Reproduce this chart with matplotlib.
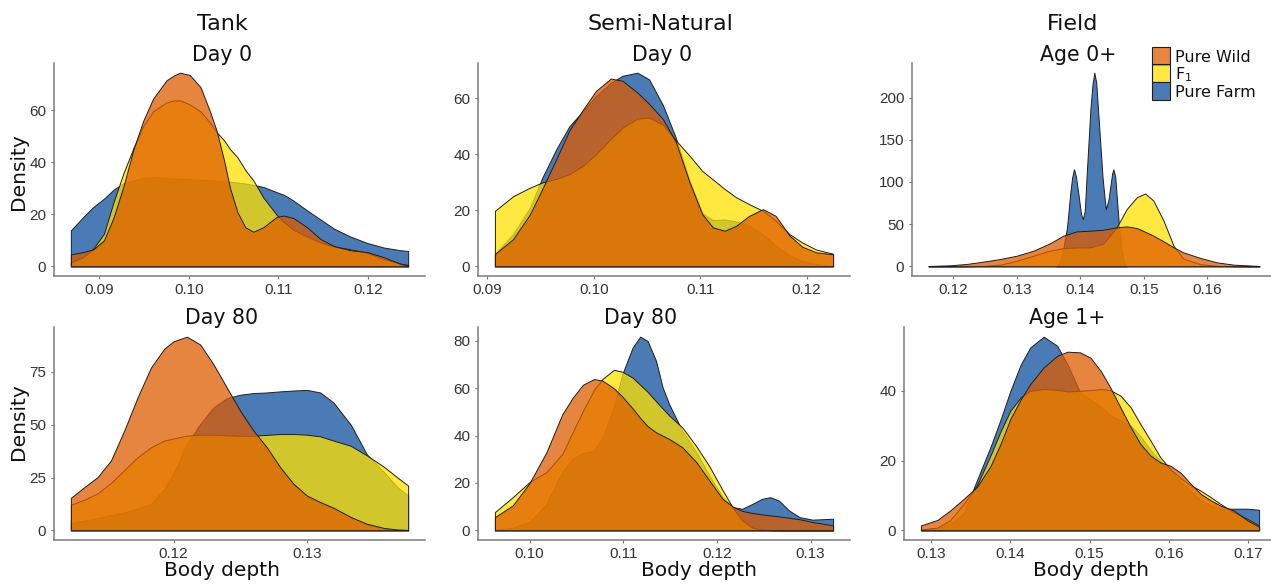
import matplotlib
matplotlib.use("Agg")
import matplotlib.pyplot as plt
from matplotlib.patches import Rectangle

# values (x = body depth, y = density)

# Tank, Day 0
tank_d0_x = [0.0868, 0.0882, 0.0893, 0.0905, 0.0916, 0.0927, 0.0938, 0.0949, 0.0960, 0.0975, 0.0983,
             0.0990, 0.1001, 0.1013, 0.1024, 0.1031, 0.1039, 0.1046, 0.1054, 0.1063, 0.1072, 0.1083,
             0.1098, 0.1106, 0.1117, 0.1132, 0.1147, 0.1162, 0.1180, 0.1199, 0.1218, 0.1236, 0.1245]
tank_d0_wild = [4.6, 5.5, 6.5, 10, 19, 31, 45, 56, 64.5, 71.5, 73.3, 74.4, 73.5, 68.8, 59, 52, 41, 30,
                21, 15, 13.3, 15, 19, 19.5, 18.5, 15, 10.5, 7.8, 6.2, 5.5, 3.5, 1, 0.3]
tank_d0_f1 = [1.5, 3.6, 6.8, 12.5, 25, 36, 45.5, 54, 59.6, 63, 63.7, 63.8, 62.2, 59.5, 55, 51.5, 48.5, 45,
              42, 37, 33, 26.5, 19.8, 17, 14, 11.5, 9.2, 7.6, 6.6, 5.2, 2.8, 1.1, 0.5]
tank_d0_farm = [13.8, 19, 22.8, 26, 29.5, 32, 33, 34, 34.2, 34, 33.8, 33.6, 33.5, 33.2, 33, 32.9, 32.7,
                32.5, 32.2, 31.8, 31.3, 30.5, 28.5, 27.5, 25.2, 21.5, 18, 14.5, 11.5, 9, 7.2, 6.2, 5.9]

# Semi-Natural, Day 0
semi_d0_x = [0.0907, 0.0924, 0.0940, 0.0952, 0.0965, 0.0977, 0.0990, 0.1002, 0.1016, 0.1027, 0.1041,
             0.1052, 0.1065, 0.1077, 0.1090, 0.1102, 0.1112, 0.1123, 0.1134, 0.1146, 0.1159, 0.1171,
             0.1184, 0.1196, 0.1209, 0.1225]
semi_d0_wild = [4.4, 9.7, 18.6, 28, 38.5, 48.5, 56, 62.6, 67, 66.2, 62, 58, 52.5, 44.5, 30, 18.6, 13.9,
                12.7, 14.5, 18, 20.4, 18, 11, 7, 5, 4.3]
semi_d0_f1 = [19.8, 25, 28.1, 30, 31.2, 32.9, 35.9, 40, 45.5, 49.5, 52.7, 53.1, 50.5, 45, 39.5, 34, 31,
              27.6, 24.6, 22.2, 19.8, 16.3, 11.5, 8.5, 6, 4.5]
semi_d0_farm = [4.4, 11.5, 21, 32, 42, 50, 55.5, 60.8, 65.5, 68, 69.1, 66.7, 57.5, 46, 30.5, 19, 16.5,
                16.7, 16, 14.5, 11.5, 7.5, 4, 2, 0.8, 0.2]

# Field, Age 0+
field_a0_x = [0.1161, 0.1195, 0.1221, 0.1247, 0.1274, 0.1300, 0.1326, 0.1352, 0.1373, 0.1394, 0.1415,
              0.1436, 0.1457, 0.1473, 0.1489, 0.1502, 0.1515, 0.1531, 0.1547, 0.1562, 0.1589, 0.1615,
              0.1641, 0.1682]
field_a0_wild = [0.4, 1.2, 2.8, 5.5, 8.7, 12.6, 18.5, 27.2, 36.3, 41.4, 42.2, 43.4, 46.2, 47.3, 45.4, 41,
                 36.3, 29.6, 22.5, 16.6, 9.9, 4.7, 2, 0.4]
field_a0_f1 = [0, 0, 0.1, 0.5, 2, 6.7, 12.6, 18.5, 21.7, 22.3, 22.5, 27, 46, 68, 82, 86.4, 78, 54, 24, 9,
               2.5, 0.6, 0.1, 0]
field_a0_farm_x = [0.1363, 0.1368, 0.1373, 0.1379, 0.1384, 0.1387, 0.1390, 0.1393, 0.1397, 0.1401,
                   0.1404, 0.1407, 0.1410, 0.1416, 0.1419, 0.1422, 0.1425, 0.1428, 0.1435, 0.1440,
                   0.1444, 0.1447, 0.1450, 0.1452, 0.1455, 0.1457, 0.1461, 0.1465, 0.1469, 0.1473]
field_a0_farm = [0, 4.7, 20.5, 46, 85.6, 105, 115, 107, 85.6, 62, 56, 66, 109, 188, 215, 229.6, 218,
                 184, 105, 67.8, 78, 93.5, 110, 115, 106, 85.6, 46, 20.5, 4.7, 0]

# Tank, Day 80
tank_d80_x = [0.1123, 0.1133, 0.1143, 0.1153, 0.1163, 0.1173, 0.1183, 0.1193, 0.1200, 0.1210, 0.1220,
              0.1230, 0.1240, 0.1250, 0.1260, 0.1270, 0.1280, 0.1290, 0.1300, 0.1310, 0.1320, 0.1333,
              0.1345, 0.1358, 0.1368, 0.1376]
tank_d80_wild = [15.4, 20.4, 25.2, 33, 47.2, 62.9, 77, 86, 89.5, 91.7, 88, 78.6, 67.6, 56.6, 47.2, 39.3,
                 29.9, 22, 16.5, 13.4, 10.7, 6.3, 3.1, 1.1, 0.4, 0.2]
tank_d80_f1 = [12.1, 14.5, 17.5, 22.4, 28.5, 34.6, 39.3, 42.5, 43.5, 44.8, 45.3, 45.3, 45, 44.8, 44.8,
               45.2, 45.6, 45.6, 45.3, 44.5, 42.5, 40, 35.5, 30, 25, 21.2]
tank_d80_farm = [3.5, 4.6, 5.8, 7.2, 8.5, 10.2, 12.5, 19.5, 27, 40.9, 50.3, 58.2, 62.6, 64.2, 65, 65.3,
                 65.8, 66.2, 66.5, 65.3, 60.5, 50, 36, 27.5, 20.4, 16.5]

# Semi-Natural, Day 80
semi_d80_x = [0.0963, 0.0982, 0.1000, 0.1018, 0.1035, 0.1046, 0.1057, 0.1069, 0.1078, 0.1090, 0.1099,
              0.1110, 0.1118, 0.1126, 0.1135, 0.1142, 0.1149, 0.1163, 0.1178, 0.1192, 0.1206, 0.1217,
              0.1227, 0.1238, 0.1248, 0.1257, 0.1266, 0.1277, 0.1288, 0.1302, 0.1324]
semi_d80_wild = [5.6, 10.5, 20, 33, 49.1, 56, 61.5, 63.9, 63.2, 60, 56.5, 51.5, 47.5, 44, 41.4, 40, 38.6,
                 35.1, 28.8, 21, 13.3, 10, 8.2, 7.3, 6.7, 6.3, 5.9, 5.3, 4.7, 3.5, 2.1]
semi_d80_f1 = [7.7, 14, 20.4, 24.6, 32.3, 41.5, 50.5, 59.5, 64, 67.8, 67, 64.5, 61.5, 58.5, 54.5, 51.5,
               48.5, 43.5, 35.5, 27, 17, 9.5, 4.2, 1.1, 0.3, 0.1, 0, 0, 0, 0, 0]
semi_d80_farm = [0.3, 1.1, 3.5, 11.2, 24.6, 30.2, 32.7, 33.6, 39.3, 52, 66, 77.2, 81.8, 80, 71.6, 60.4,
                 53.3, 42, 33, 23, 14, 9.8, 9.1, 11.2, 13.3, 14, 12.6, 8.4, 5.6, 4.5, 4.9]

# Field, Age 1+
field_a1_x = [0.1287, 0.1308, 0.1324, 0.1341, 0.1358, 0.1375, 0.1388, 0.1400, 0.1413, 0.1425, 0.1442,
              0.1459, 0.1472, 0.1488, 0.1501, 0.1514, 0.1526, 0.1539, 0.1552, 0.1564, 0.1577, 0.1589,
              0.1602, 0.1615, 0.1627, 0.1640, 0.1653, 0.1665, 0.1682, 0.1699, 0.1714]
field_a1_wild = [1.4, 3, 5.7, 9, 12.5, 18.5, 25, 32, 37.5, 41.9, 46.7, 50, 51.2, 51, 49.5, 45.7, 41, 35.2,
                 29.5, 24.8, 21.4, 19.5, 18.5, 16.5, 13.5, 10.5, 8.6, 7.1, 5.7, 2.9, 1]
field_a1_f1 = [0.2, 0.8, 2.9, 7.6, 13, 21.5, 28.6, 34.3, 38.1, 40, 40.5, 40.3, 39.8, 40, 40.2, 40.5, 40.2,
               38.6, 35.2, 30.5, 25.7, 21, 17.5, 15, 13, 11.4, 9.5, 7.6, 5.2, 3.3, 1.4]
field_a1_farm = [0.2, 0.6, 1.9, 4.8, 14.5, 24, 32, 40, 47.5, 52.4, 55.5, 52.9, 47.6, 39.5, 37.5, 35.5, 33,
                 31.5, 30, 27, 23, 20, 17, 14, 11.4, 8.8, 7, 6.2, 6.2, 6.2, 5.9]

groups = ["Pure Wild", "F$_1$", "Pure Farm"]
colors = {"Pure Wild": "#DE5C00", "F$_1$": "#FFE100", "Pure Farm": "#0E4F9C"}
ALPHA = 0.75

W, H = 1271, 585

plt.rcParams["font.family"] = ["DejaVu Sans"]
plt.rcParams["mathtext.default"] = "regular"

fig = plt.figure(figsize=(W / 100, H / 100), dpi=100)


def add_ax(left, top, w, h):
    return fig.add_axes([left / W, 1 - (top + h) / H, w / W, h / H])


def fill(ax, x, y, name):
    r, g, b, _ = matplotlib.colors.to_rgba(colors[name])
    ax.fill_between(x, 0, y, facecolor=(r, g, b, ALPHA), edgecolor="#1e1e1e", linewidth=0.7)


def draw_panel(ax, wild, f1, farm, xticks, yticks):
    # farm first, then F1, wild on top
    for (x, y), name in zip([farm, f1, wild], ["Pure Farm", "F$_1$", "Pure Wild"]):
        fill(ax, x, y, name)
    xs = list(wild[0]) + list(f1[0]) + list(farm[0])
    ys = list(wild[1]) + list(f1[1]) + list(farm[1])
    x0, x1 = min(xs), max(xs)
    dx = (x1 - x0) * 0.05
    ax.set_xlim(x0 - dx, x1 + dx)
    ymax = max(ys)
    ax.set_ylim(-0.05 * ymax, 1.05 * ymax)
    ax.set_xticks(xticks)
    ax.set_xticklabels(["%.2f" % t for t in xticks])
    ax.set_yticks(yticks)
    ax.set_yticklabels([str(t) for t in yticks])
    for s in ["top", "right"]:
        ax.spines[s].set_visible(False)
    for s in ["left", "bottom"]:
        ax.spines[s].set_color("#7a7a7a")
        ax.spines[s].set_linewidth(1.1)
    ax.tick_params(axis="both", length=2.5, width=0.8, color="#7a7a7a", labelsize=11,
                   labelcolor="#333333", labelfontfamily="Liberation Sans")
    ax.tick_params(axis="x", pad=2.2)
    ax.tick_params(axis="y", pad=3)


ax1 = add_ax(54, 63, 371, 213)
draw_panel(ax1, (tank_d0_x, tank_d0_wild), (tank_d0_x, tank_d0_f1), (tank_d0_x, tank_d0_farm),
           [0.09, 0.10, 0.11, 0.12], [0, 20, 40, 60])
ax2 = add_ax(478, 63, 372, 213)
draw_panel(ax2, (semi_d0_x, semi_d0_wild), (semi_d0_x, semi_d0_f1), (semi_d0_x, semi_d0_farm),
           [0.09, 0.10, 0.11, 0.12], [0, 20, 40, 60])
ax3 = add_ax(912, 63, 364, 213)
draw_panel(ax3, (field_a0_x, field_a0_wild), (field_a0_x, field_a0_f1), (field_a0_farm_x, field_a0_farm),
           [0.12, 0.13, 0.14, 0.15, 0.16], [0, 50, 100, 150, 200])
ax4 = add_ax(54, 327, 371, 213)
draw_panel(ax4, (tank_d80_x, tank_d80_wild), (tank_d80_x, tank_d80_f1), (tank_d80_x, tank_d80_farm),
           [0.12, 0.13], [0, 25, 50, 75])
ax5 = add_ax(478, 327, 372, 213)
draw_panel(ax5, (semi_d80_x, semi_d80_wild), (semi_d80_x, semi_d80_f1), (semi_d80_x, semi_d80_farm),
           [0.10, 0.11, 0.12, 0.13], [0, 20, 40, 60, 80])
ax6 = add_ax(904, 327, 372, 213)
draw_panel(ax6, (field_a1_x, field_a1_wild), (field_a1_x, field_a1_f1), (field_a1_x, field_a1_farm),
           [0.13, 0.14, 0.15, 0.16, 0.17], [0, 20, 40])


def ftext(x, y, s, **kw):
    fig.text(x / W, 1 - y / H, s, **kw)


# column titles
for x, s in [(222, "Tank"), (660, "Semi-Natural"), (1073, "Field")]:
    ftext(x, 30, s, ha="center", va="baseline", fontsize=16, color="#111111")
# panel titles
for x, y, s in [(222, 61, "Day 0"), (662, 61, "Day 0"), (1078, 61, "Age 0+"),
                (222, 324.5, "Day 80"), (641, 324.5, "Day 80"), (1067, 324.5, "Age 1+")]:
    ftext(x, y, s, ha="center", va="baseline", fontsize=14.8, color="#111111")
# axis labels
for x in [222, 699, 1091]:
    ftext(x, 576.5, "Body depth", ha="center", va="baseline", fontsize=14.5, color="#111111")
for y in [172, 422]:
    ftext(19, y, "Density", ha="center", va="center", rotation=90, fontsize=14.5, color="#111111")

# legend
row_top = [47, 64.5, 82]
for top, name in zip(row_top, groups):
    r, g, b, _ = matplotlib.colors.to_rgba(colors[name])
    fig.add_artist(Rectangle((1152 / W, 1 - (top + 17.5) / H), 18 / W, 17.5 / H,
                             transform=fig.transFigure, facecolor=(r, g, b, ALPHA),
                             edgecolor="#1e1e1e", linewidth=0.8))
    ftext(1175, top + 8.75 + 6.3, name, ha="left", va="baseline", fontsize=11.5, color="#111111")

fig.savefig("out.png", dpi=100)
